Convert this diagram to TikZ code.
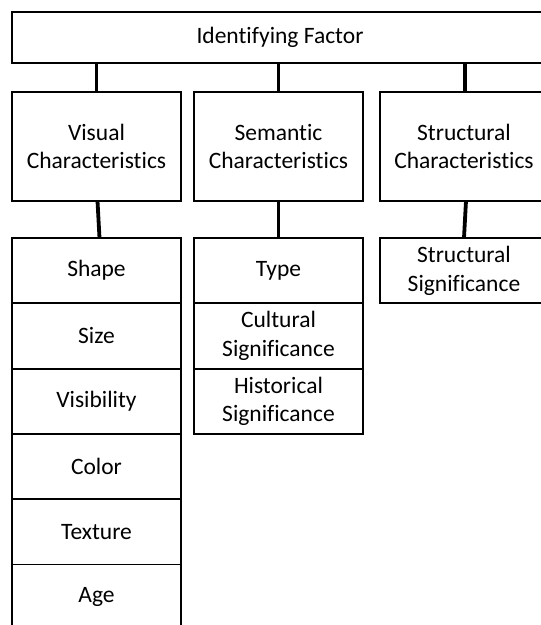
\documentclass[tikz,border=0pt]{standalone}
\usepackage{fontspec}
\setmainfont{Carlito}[Ligatures=NoCommon]
\usepackage{tikz}
\usetikzlibrary{positioning}

\newcommand{\boxfont}{\fontsize{23.5}{28.5}\selectfont}

\begin{document}
\begin{tikzpicture}[x=1pt, y=1pt,
    box/.style={draw, line width=1.8pt, align=center, inner sep=0pt,
                outer sep=0pt, font=\boxfont},
    headbox/.style={box, minimum width=169pt, minimum height=109pt},
    cell/.style={box, minimum width=169pt, minimum height=65.3pt},
    link/.style={line width=3.8pt}]
  \useasboundingbox (0,0) rectangle (541,-625);
  \clip (0,0) rectangle (541,-625);

  % top level
  \node[box, minimum width=536pt, minimum height=51pt] (factor) at (280,-37.5)
    {Identifying Factor};

  % categories
  \node[headbox] (visual) at (96.5,-146.5) {Visual\\Characteristics};
  \node[headbox, right=13pt of visual] (semantic) {Semantic\\Characteristics};
  \node[headbox, minimum width=168pt, right=17pt of semantic] (structural)
    {Structural\\Characteristics};

  % visual factors
  \node[cell, below=37pt of visual] (shape) {Shape};
  \node[cell, below=0pt of shape] (size) {Size};
  \node[cell, below=0pt of size] (visibility) {Visibility};
  \node[cell, below=0pt of visibility] (color) {Color};
  \node[cell, below=0pt of color] (texture) {Texture};
  \node[cell, below=0pt of texture] (age) {Age};

  % semantic factors
  \node[cell, below=37pt of semantic] (type) {Type};
  \node[cell, below=0pt of type] (cultural) {Cultural\\Significance};
  \node[cell, below=0pt of cultural] (historical) {Historical\\Significance};

  % structural factors
  \node[cell, minimum width=168pt, below=37pt of structural] (strsig)
    {Structural\\Significance};

  % links
  \draw[link] (visual.north |- factor.south) -- (visual.north);
  \draw[link] (semantic.north |- factor.south) -- (semantic.north);
  \draw[link] ([xshift=1pt]structural.north |- factor.south) -- ([xshift=1pt]structural.north);
  \draw[link] ([xshift=1pt]visual.south) -- ([xshift=3pt]shape.north);
  \draw[link] (semantic.south) -- (type.north);
  \draw[link] ([xshift=2pt]structural.south) -- (strsig.north);
\end{tikzpicture}
\end{document}
